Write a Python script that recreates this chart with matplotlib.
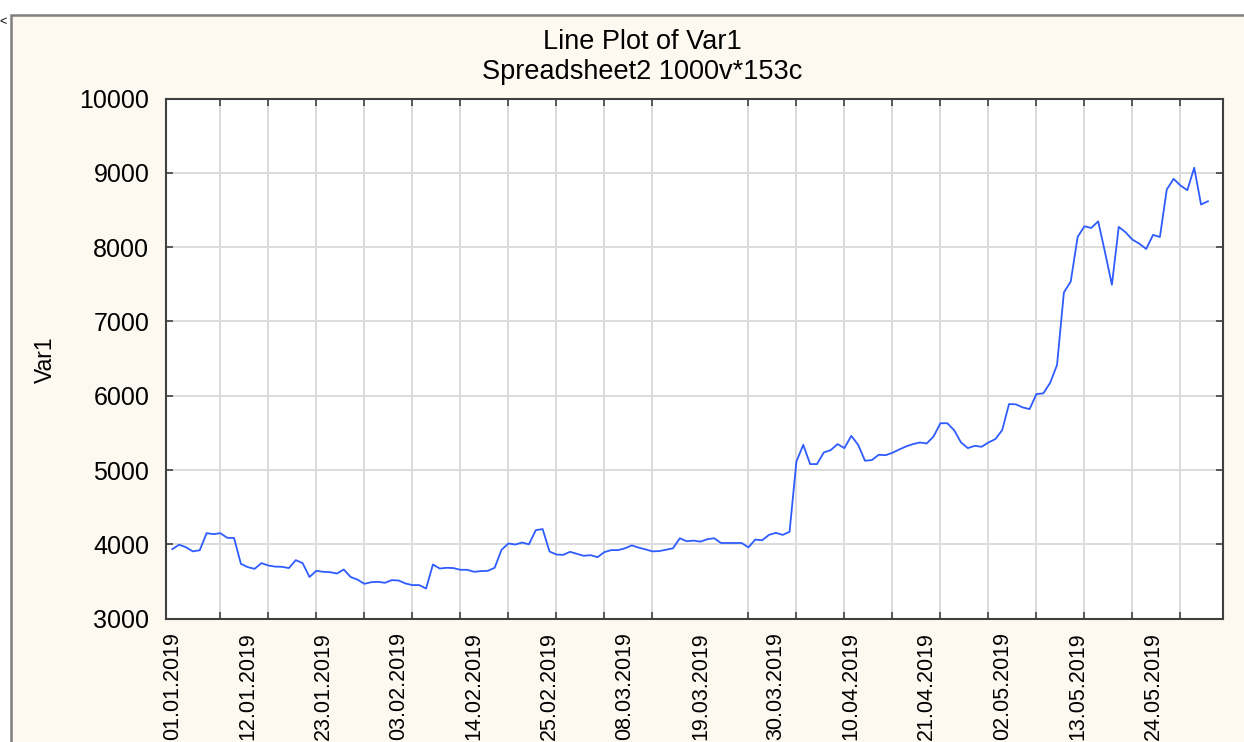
import numpy as np
import pandas as pd
import matplotlib
matplotlib.use('Agg')
import matplotlib.pyplot as plt
from matplotlib.patches import Rectangle

# daily values of Var1, starting 01.01.2019
START = '2019-01-01'
var1 = [3935, 3995, 3960, 3905, 3920, 4150, 4137, 4150, 4088, 4085, 3738, 3693, 3670, 3747, 3715, 3700,
        3697, 3680, 3787, 3747, 3560, 3643, 3630, 3625, 3607, 3661, 3560, 3525, 3468, 3490, 3495,
        3482, 3518, 3513, 3473, 3451, 3451, 3405, 3728, 3674, 3684, 3680, 3657, 3657, 3630, 3639,
        3643, 3684, 3926, 4011, 3997, 4024, 4000, 4191, 4205, 3903, 3863, 3858, 3899, 3872, 3845, 3854,
        3827, 3895, 3922, 3922, 3946, 3986, 3955, 3932, 3905, 3909, 3927, 3946, 4082, 4041, 4050,
        4036, 4068, 4082, 4018, 4018, 4018, 4018, 3959, 4064, 4054, 4127, 4154, 4127, 4168,
        5115, 5339, 5080, 5080, 5237, 5268, 5349, 5295, 5460, 5339, 5125, 5134, 5205, 5200, 5232,
        5277, 5318, 5349, 5371, 5357, 5452, 5630, 5630, 5536, 5371, 5295, 5326, 5313, 5371, 5416, 5536,
        5888, 5884, 5843, 5820, 6023, 6032, 6175, 6414, 7390, 7538, 8137, 8281, 8259, 8348, 7930,
        7494, 8273, 8200, 8101, 8047, 7976, 8165, 8137, 8776, 8920, 8830, 8767, 9069, 8574, 8618]

date_labels = ['01.01.2019', '12.01.2019', '23.01.2019', '03.02.2019', '14.02.2019', '25.02.2019',
               '08.03.2019', '19.03.2019', '30.03.2019', '10.04.2019', '21.04.2019', '02.05.2019',
               '13.05.2019', '24.05.2019']
y_ticks = [3000, 4000, 5000, 6000, 7000, 8000, 9000, 10000]

plt.rcParams['font.family'] = ['Liberation Sans', 'DejaVu Sans']

W, H = 1244, 742
x = np.arange(len(var1))
label_pos = (pd.to_datetime(date_labels, format='%d.%m.%Y') - pd.Timestamp(START)).days
weeks = np.arange(0, 150, 7)

fig = plt.figure(figsize=(W / 100, H / 100), dpi=100, facecolor='white')
# window frame behind everything
fig.patches.append(Rectangle((11 / W, -0.01), 1.0, 1 - 15 / H + 0.01, transform=fig.transFigure,
                             facecolor='#fdf8f0', edgecolor='#7f7f7f', lw=1.8, zorder=-10))
fig.text(3 / W, 1 - 22 / H, '<', fontsize=9, ha='center', va='center')

ax = fig.add_axes([166 / W, 1 - 618.6 / H, (1223 - 166) / W, (618.6 - 98.6) / H])
ax.set_facecolor('white')
ax.plot(x, var1, color='#2f5cff', lw=1.3, zorder=3)

ax.set_xlim(-0.92, 153.2)
ax.set_ylim(3000, 10000)
ax.set_yticks(y_ticks)
ax.set_yticklabels([str(v) for v in y_ticks], fontsize=18)
ax.set_xticks(label_pos)
ax.set_xticklabels(date_labels, rotation=90, fontsize=15.5)
ax.set_xticks(weeks, minor=True)

ax.tick_params(axis='x', which='major', length=0, pad=10)
ax.tick_params(axis='x', which='minor', direction='in', length=5, width=1.2, top=True, bottom=True,
               color='#404040')
ax.tick_params(axis='y', direction='in', length=5, width=1.2, left=True, right=True, pad=12,
               color='#404040')
ax.grid(axis='x', which='minor', color='#dcdcdc', lw=1.4)
ax.grid(axis='y', which='major', color='#dcdcdc', lw=1.4)
ax.set_axisbelow(True)
for s in ax.spines.values():
    s.set_color('#404040')
    s.set_linewidth(1.5)

fig.text(642 / W, 1 - 42 / H, 'Line Plot of Var1', fontsize=19.5, ha='center', va='center')
fig.text(642 / W, 1 - 72 / H, 'Spreadsheet2 1000v*153c', fontsize=19.5, ha='center', va='center')
fig.text(45 / W, 1 - 360 / H, 'Var1', fontsize=16.5, rotation=90, ha='center', va='center')

fig.savefig('out.png', dpi=100, facecolor=fig.get_facecolor())
